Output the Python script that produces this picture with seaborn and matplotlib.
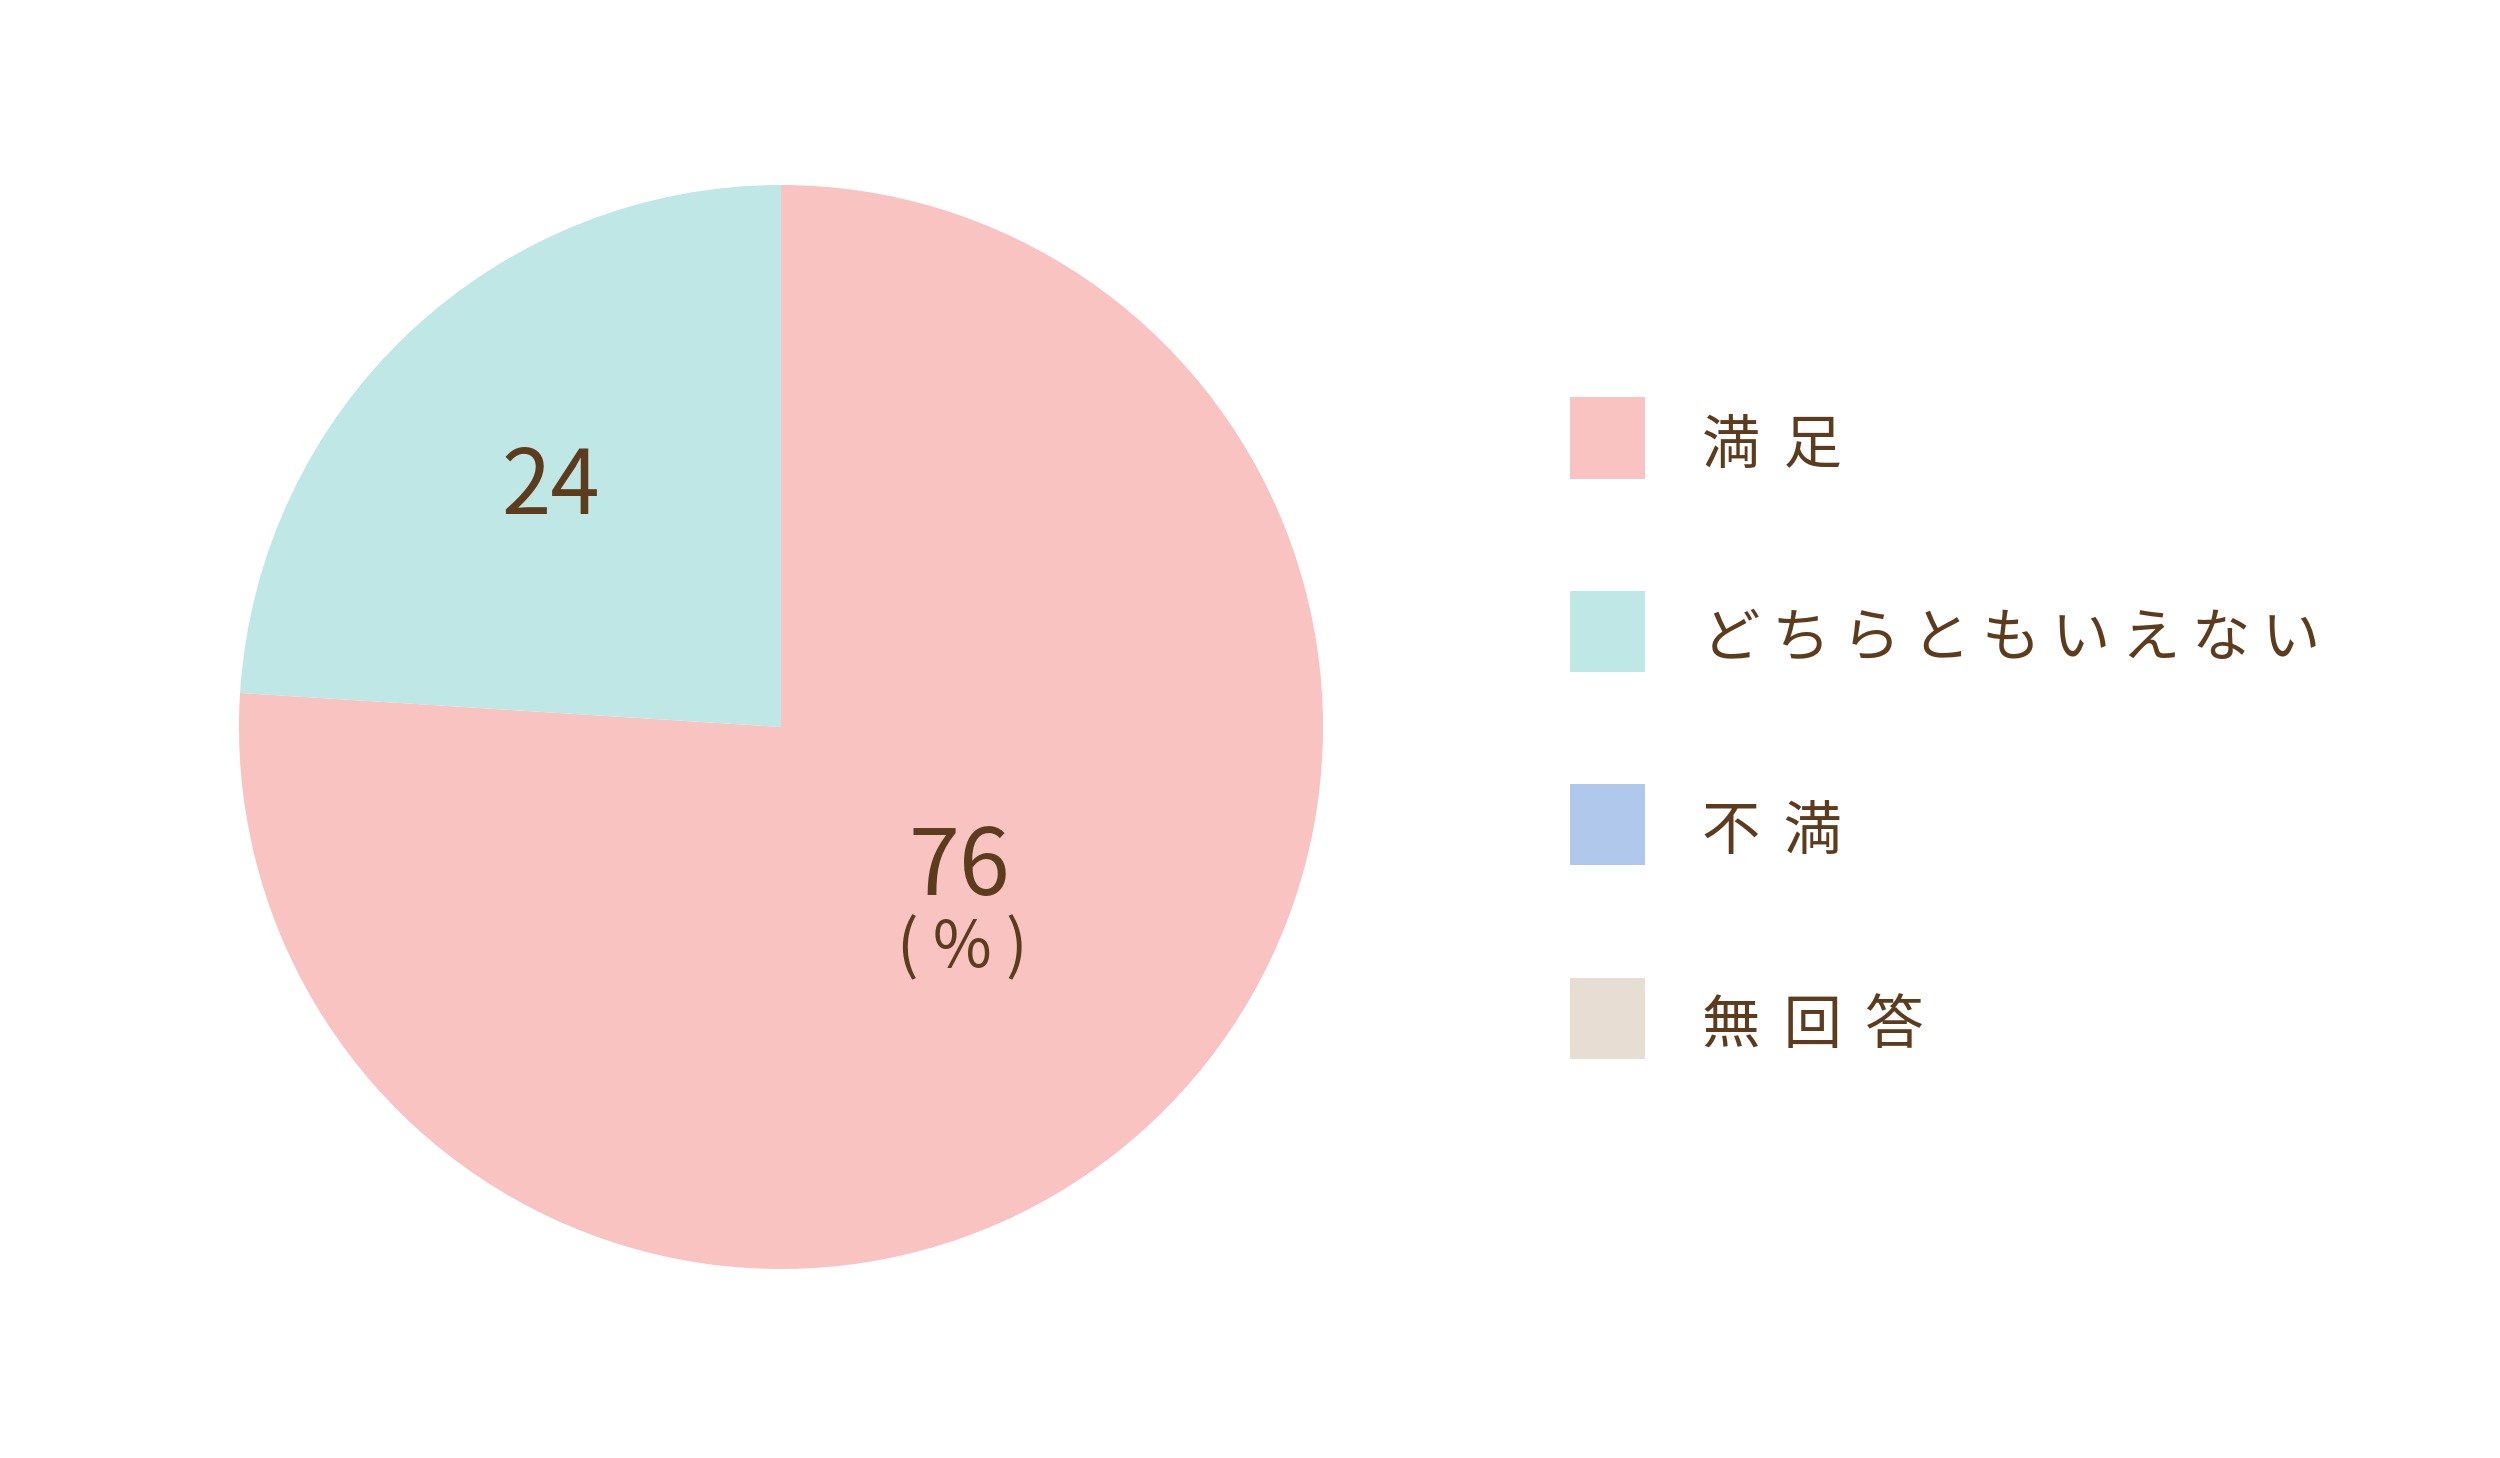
import numpy as np
import matplotlib
matplotlib.use("Agg")
import matplotlib.pyplot as plt
import matplotlib.patches as mpatches
import seaborn as sns

categories = ["満足", "どちらともいえない", "不満", "無回答"]
values = [76, 24, 0, 0]
colors = ["#F8C3C1", "#BFE7E5", "#AFC8EC", "#E8DDD2"]
text_color = "#5C3C1C"

sns.set_theme(style="white")
plt.rcParams["font.family"] = ["Noto Sans CJK JP", "DejaVu Sans"]

W, H = 2500, 1458
fig = plt.figure(figsize=(W / 100, H / 100), dpi=100)
fig.patch.set_facecolor("white")

# pie: center (781, 727) px, radius 542 px
cx, cy, r = 781, 727, 542
ax = fig.add_axes([(cx - r) / W, (H - cy - r) / H, 2 * r / W, 2 * r / H])
wedges, _ = ax.pie(values, colors=colors, startangle=90, counterclock=False,
                   wedgeprops=dict(linewidth=0))
ax.set_xlim(-1, 1)
ax.set_ylim(-1, 1)
ax.set_aspect("auto")
ax.axis("off")

# labels
for w, v in zip(wedges, values):
    if v == 0:
        continue
    mid = np.deg2rad((w.theta1 + w.theta2) / 2)
    if v == max(values):
        ax.text(0.33, -0.262, f"{v}", ha="center", va="center",
                fontsize=66, color=text_color)
        ax.text(0.335, -0.41, "( % )", ha="center", va="center",
                fontsize=46, color=text_color)
    else:
        ax.text(0.62 * np.cos(mid), 0.62 * np.sin(mid) - 0.012, f"{v}",
                ha="center", va="center", fontsize=64, color=text_color)

# legend (letter-spaced like the original; kanji get a bit more room)
sq_x, sq_w, sq_h = 1570, 75, 81
row_y = [438, 631, 824, 1018]
for lab, col, y in zip(categories, colors, row_y):
    has_kanji = any(ch >= "\u4e00" for ch in lab)
    gap = "\u2009\u2009" if has_kanji else "\u2009"
    fig.patches.append(mpatches.Rectangle(
        (sq_x / W, (H - y - sq_h / 2) / H), sq_w / W, sq_h / H,
        transform=fig.transFigure, facecolor=col, edgecolor="none"))
    fig.text(1702 / W, (H - y - 8) / H, gap.join(lab), ha="left", va="center",
             fontsize=42, color=text_color)

fig.savefig("out.png", dpi=100, facecolor="white")
